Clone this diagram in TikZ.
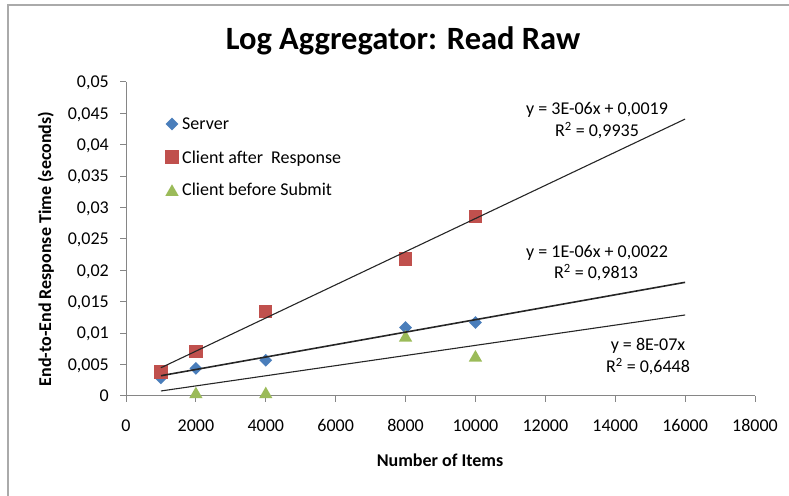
\documentclass[tikz,border=0pt]{standalone}
\usepackage{fontspec}
\setmainfont{Carlito}
\usetikzlibrary{shapes.geometric}
\definecolor{srvblue}{RGB}{74,126,187}
\definecolor{resred}{RGB}{192,80,77}
\definecolor{subgreen}{RGB}{155,187,89}
\definecolor{axisgray}{RGB}{134,134,134}
\definecolor{framegray}{RGB}{170,170,170}

\begin{document}
\begin{tikzpicture}[
  x=1pt, y=1pt,
  lbl/.style={font=\fontsize{18}{20}\selectfont, inner sep=0pt},
  boldlbl/.style={font=\fontsize{18}{20}\selectfont\bfseries, inner sep=0pt},
  srvmark/.style={diamond, fill=srvblue, inner sep=0pt, minimum width=13pt, minimum height=13pt},
  resmark/.style={rectangle, fill=resred, inner sep=0pt, minimum size=13.3pt},
  submark/.style={regular polygon, regular polygon sides=3, fill=subgreen, inner sep=0pt, minimum size=15.4pt},
  trend/.style={draw=black!85, line width=1.1pt},
  axisline/.style={draw=axisgray, line width=1pt}
]
\useasboundingbox (0,0) rectangle (789,495);

% Frame and title
\draw[framegray, line width=2pt] (8,-10) -- (8,490) -- (800,490);
\node[font=\fontsize{32.5}{36}\selectfont\bfseries, inner sep=0pt, anchor=base] (title) at (403,445) {Log Aggregator: Read Raw};

% Axis titles
\node[boldlbl, anchor=base] (xlab) at (440,28.3) {Number of Items};
\node[boldlbl, anchor=base, rotate=90] (ylab) at (51,246) {End-to-End Response Time (seconds)};

% Plot area (x in thousands of items, y in ms)
\begin{scope}[shift={(126,99)}, x=34.944pt, y=6.28pt]

% Axes and ticks
\draw[axisline] (0,0) -- (18,0);
\draw[axisline] (0,0) -- (0,50);
\foreach \v/\t in {0/0, 5/{0,005}, 10/{0,01}, 15/{0,015}, 20/{0,02}, 25/{0,025},
                   30/{0,03}, 35/{0,035}, 40/{0,04}, 45/{0,045}, 50/{0,05}} {
  \draw[axisline] (0,\v) -- ([xshift=-6pt]0,\v);
  \node[lbl, anchor=base east, name=ytk\v] at ([xshift=-17pt, yshift=-5.7pt]0,\v) {\t};
}
\foreach \v/\t in {0/0, 2/2000, 4/4000, 6/6000, 8/8000, 10/10000,
                   12/12000, 14/14000, 16/16000, 18/18000} {
  \draw[axisline] (\v,0) -- ([yshift=-6pt]\v,0);
  \node[lbl, anchor=base, name=xtk\v] at ([yshift=-35.7pt]\v,0) {\t};
}

% Server
\node[srvmark] (s1) at (1,2.9) {};
\node[srvmark] (s2) at (2,4.4) {};
\node[srvmark] (s3) at (4,5.7) {};
\node[srvmark] (s4) at (8,10.9) {};
\node[srvmark] (s5) at (10,11.7) {};

% Client after Response
\node[resmark] (r1) at (1,3.8) {};
\node[resmark] (r2) at (2,7.05) {};
\node[resmark] (r3) at (4,13.4) {};
\node[resmark] (r4) at (8,21.8) {};
\node[resmark] (r5) at (10,28.55) {};

% Client before Submit
\node[submark] (b2) at (2,0.26) {};
\node[submark] (b3) at (4,0.26) {};
\node[submark] (b4) at (8,9.28) {};
\node[submark] (b5) at (10,6.1) {};

% Trend lines
\coordinate (resa) at (1,4.5);
\coordinate (resb) at (16,44.1);
\coordinate (srva) at (1,3.23);
\coordinate (srvb) at (16,18.1);
\coordinate (suba) at (1,0.8);
\coordinate (subb) at (16,12.9);
\draw[trend] (resa) -- (resb);
\draw[trend, line width=1.6pt] (srva) -- (srvb);
\draw[trend] (suba) -- (subb);
\end{scope}

% Trend labels
\node[lbl, anchor=base] (eqres) at (597,380) {y = 3E-06x + 0,0019};
\node[lbl, anchor=base] (rsqres) at (597,358.3) {R\textsuperscript{2} = 0,9935};
\node[lbl, anchor=base] (eqsrv) at (597,237.7) {y = 1E-06x + 0,0022};
\node[lbl, anchor=base] (rsqsrv) at (596,216) {R\textsuperscript{2} = 0,9813};
\node[lbl, anchor=base] (eqsub) at (648,144) {y = 8E-07x};
\node[lbl, anchor=base] (rsqsub) at (648,122.7) {R\textsuperscript{2} = 0,6448};

% Legend
\node[srvmark] (legsrv) at (172,371) {};
\node[resmark] (legres) at (172,338) {};
\node[submark] (legsub) at (172,303) {};
\node[lbl, anchor=base west] (legsrvtxt) at (182,365) {Server};
\node[lbl, anchor=base west] (legrestxt) at (182,331.7) {Client after\ \ Response};
\node[lbl, anchor=base west] (legsubtxt) at (182,299) {Client before Submit};

\end{tikzpicture}
\end{document}
